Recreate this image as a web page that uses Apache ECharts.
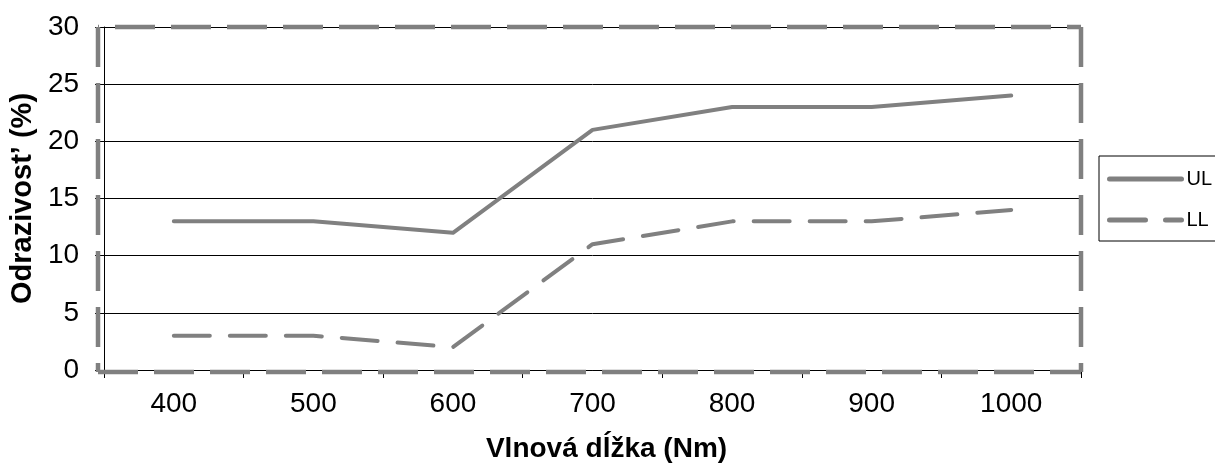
<!DOCTYPE html>
<html>
<head>
<meta charset="utf-8">
<script src="https://cdn.jsdelivr.net/npm/echarts@6/dist/echarts.min.js"></script>
<style>html,body{margin:0;padding:0;background:#fff}#c{width:1215px;height:468px}</style>
</head>
<body>
<div id="c"></div>
<script>
var categories = ['400','500','600','700','800','900','1000'];
var ulValues = [13, 13, 12, 21, 23, 23, 24];
var llValues = [3, 3, 2, 11, 13, 13, 14];
var yTicks = [0, 5, 10, 15, 20, 25, 30];

var chart = echarts.init(document.getElementById('c'));
var G = {left: 98, top: 27, width: 983, height: 345};
var R = G.left + G.width, B = G.top + G.height;
var font = 'Liberation Sans, Arial, sans-serif';
var borderStyle = {stroke: '#808080', lineWidth: 4.5, lineDash: [40, 16]};
function edge(x1, y1, x2, y2, offset) {
  return {type: 'line', z: 5, silent: true,
    shape: {x1: x1, y1: y1, x2: x2, y2: y2},
    style: Object.assign({lineDashOffset: offset || 0}, borderStyle)};
}
chart.setOption({
  animation: false,
  backgroundColor: '#fff',
  grid: {left: G.left, top: G.top, width: G.width, height: G.height},
  legend: {
    orient: 'vertical', left: 1099, top: 156,
    borderColor: '#000', borderWidth: 1, padding: [13, 40, 11, 8],
    itemWidth: 72, itemHeight: 18, itemGap: 21,
    textStyle: {fontFamily: font, fontSize: 20, color: '#000'},
    itemStyle: {color: 'rgba(0,0,0,0)', borderWidth: 0, opacity: 0},
    data: [
      {name: 'UL', lineStyle: {width: 5, type: 'solid', cap: 'round', color: '#808080'}},
      {name: 'LL', lineStyle: {width: 5, type: [36, 20], cap: 'round', color: '#808080'}}
    ]
  },
  xAxis: {
    type: 'category', data: categories, boundaryGap: true,
    name: 'Vlnová dĺžka (Nm)', nameLocation: 'middle', nameGap: 65,
    nameTextStyle: {fontFamily: font, fontSize: 28, fontWeight: 'bold', color: '#000', padding: [0, 0, 0, 28]},
    axisLine: {lineStyle: {color: '#000', width: 1}},
    axisTick: {show: true, length: 8, lineStyle: {color: '#000'}},
    axisLabel: {fontFamily: font, fontSize: 28, color: '#000', margin: 20},
    splitLine: {show: false}
  },
  yAxis: {
    type: 'value', min: 0, max: 30, interval: 5,
    name: 'Odrazivost’ (%)', nameLocation: 'middle', nameGap: 60,
    nameTextStyle: {fontFamily: font, fontSize: 29, fontWeight: 'bold', color: '#000'},
    axisLine: {show: true, lineStyle: {color: '#000', width: 1}},
    axisTick: {show: true, length: 9, lineStyle: {color: '#000'}},
    axisLabel: {fontFamily: font, fontSize: 28, color: '#000', margin: 25,
      formatter: function (v) { return yTicks.indexOf(v) >= 0 ? String(v) : ''; }},
    splitLine: {show: true, lineStyle: {color: '#000', width: 1}}
  },
  graphic: [
    edge(G.left, G.top, R, G.top, 39),
    edge(G.left, G.top, G.left, B, 0),
    edge(R, G.top, R, B, 0),
    edge(G.left, B, R, B, 0)
  ],
  series: [{
    name: 'UL', type: 'line', data: ulValues, symbol: 'none', z: 10,
    lineStyle: {color: '#808080', width: 4, type: 'solid', cap: 'round', join: 'round'},
    itemStyle: {color: '#808080'}
  }, {
    name: 'LL', type: 'line', data: llValues, symbol: 'none', z: 10,
    lineStyle: {color: '#808080', width: 4, type: [36, 20], cap: 'round', join: 'round'},
    itemStyle: {color: '#808080'}
  }]
});
</script>
</body>
</html>
